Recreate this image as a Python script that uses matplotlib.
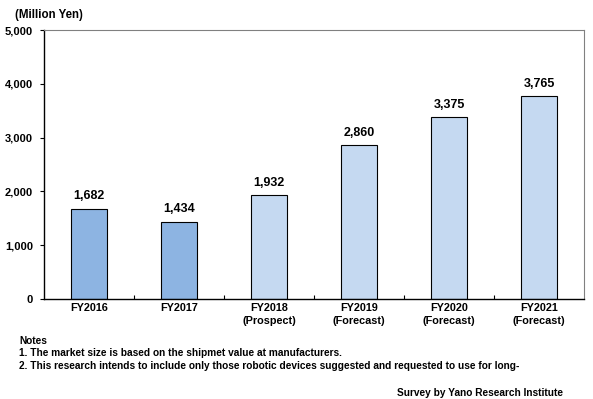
import numpy as np
import matplotlib.pyplot as plt

years = ['FY2016', 'FY2017', 'FY2018\n(Prospect)', 'FY2019\n(Forecast)',
         'FY2020\n(Forecast)', 'FY2021\n(Forecast)']
values = [1682, 1434, 1932, 2860, 3375, 3765]
colors = ['#8db4e2', '#8db4e2', '#c5d9f1', '#c5d9f1', '#c5d9f1', '#c5d9f1']
yticks = [0, 1000, 2000, 3000, 4000, 5000]
yticklabels = ['0', '1,000', '2,000', '3,000', '4,000', '5,000']

plt.rcParams['font.family'] = 'Liberation Sans'
fntsize = 7.3

fig = plt.figure(figsize=(5.93, 3.99), dpi=100)
ax = fig.add_axes([0.0742, 0.2506, 0.9106, 0.6742])

x = np.arange(len(values))
ax.bar(x, values, width=0.41, color=colors, edgecolor='black', linewidth=0.8)
for i, v in enumerate(values):
    ax.text(x[i], v + 120, f'{v:,}', ha='center', va='bottom',
            fontsize=9, fontweight='bold')

ax.set_xlim(-0.5, len(values) - 0.5)
ax.set_ylim(0, 5000)
ax.set_yticks(yticks)
ax.set_yticklabels(yticklabels, fontsize=8, fontweight='bold')
ax.tick_params(axis='y', direction='out', length=3, width=0.8, pad=5)

# category labels, ticks between categories
ax.set_xticks(x)
ax.set_xticklabels(years, fontsize=7.8, fontweight='bold', linespacing=1.4)
ax.tick_params(axis='x', length=0, pad=3)
ax.set_xticks(np.arange(0.5, len(values) - 0.5), minor=True)
ax.tick_params(axis='x', which='minor', direction='in', length=3, width=0.8)

for s in ['top', 'right']:
    ax.spines[s].set_color('#808080')
    ax.spines[s].set_linewidth(0.8)
for s in ['left', 'bottom']:
    ax.spines[s].set_color('black')
    ax.spines[s].set_linewidth(1.0)

fig.text(15 / 593, 1 - 15 / 399, '(Million Yen)', fontsize=8.3,
         fontweight='bold', va='center')
fig.text(19 / 593, 1 - 341 / 399, 'Notes', fontsize=fntsize, fontweight='bold', va='center')
fig.text(19 / 593, 1 - 353 / 399,
         '1. The market size is based on the shipmet value at manufacturers.',
         fontsize=fntsize, fontweight='bold', va='center')
fig.text(19 / 593, 1 - 366 / 399,
         '2. This research intends to include only those robotic devices suggested and requested to use for long-',
         fontsize=fntsize, fontweight='bold', va='center')
fig.text(563 / 593, 1 - 393 / 399, 'Survey by Yano Research Institute',
         fontsize=fntsize, fontweight='bold', va='center', ha='right')

plt.savefig('out.png', dpi=100)
